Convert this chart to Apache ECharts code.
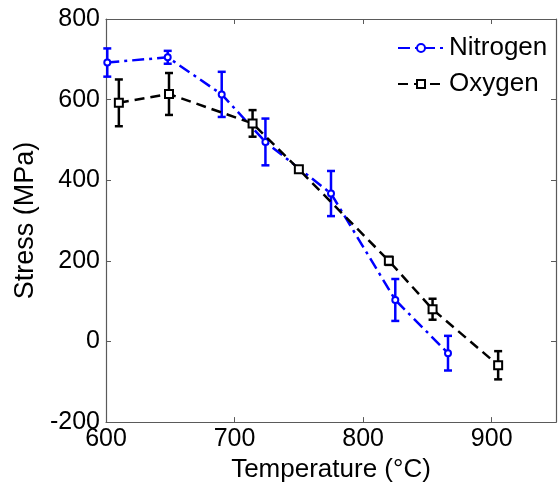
<!DOCTYPE html>
<html>
<head>
<meta charset="utf-8">
<script src="https://cdn.jsdelivr.net/npm/echarts@6/dist/echarts.min.js"></script>
<style>
html,body{margin:0;padding:0;background:#fff;}
#chart{width:559px;height:488px;}
</style>
</head>
<body>
<div id="chart"></div>
<script>
// Data
const nitrogenT = [601, 648, 690, 724, 775, 825, 866];
const nitrogenStress = [692, 705, 613, 495, 367, 103, -29];
const nitrogenErr = [35, 16, 56, 58, 56, 52, 43];

const oxygenT = [610, 649, 714, 750, 820, 854, 905];
const oxygenStress = [592, 614, 541, 427, 200, 80, -59];
const oxygenErr = [58, 52, 33, 6, 10, 26, 35];

const xTicks = [600, 700, 800, 900];
const yTicks = [-200, 0, 200, 400, 600, 800];

const FONT = 'Liberation Sans, Arial, sans-serif';
const AXIS_COLOR = '#5a5a5a';

function pts(xs, ys) { return xs.map((x, i) => [x, ys[i]]); }
function errs(xs, ys, es) { return xs.map((x, i) => [x, ys[i] - es[i], ys[i] + es[i]]); }

function errRender(color) {
  return function (params, api) {
    const x = api.value(0);
    const lo = api.coord([x, api.value(1)]);
    const hi = api.coord([x, api.value(2)]);
    const w = 4;
    const style = { stroke: color, lineWidth: 2.5, fill: null };
    return {
      type: 'group',
      children: [
        { type: 'line', shape: { x1: lo[0], y1: lo[1], x2: hi[0], y2: hi[1] }, style },
        { type: 'line', shape: { x1: lo[0] - w, y1: lo[1], x2: lo[0] + w, y2: lo[1] }, style },
        { type: 'line', shape: { x1: hi[0] - w, y1: hi[1], x2: hi[0] + w, y2: hi[1] }, style }
      ]
    };
  };
}

const chart = echarts.init(document.getElementById('chart'), null, { renderer: 'canvas' });

const axisCommon = {
  axisLine: { show: true, onZero: false, lineStyle: { color: AXIS_COLOR, width: 1.2 } },
  axisTick: { show: true, inside: true, length: 5, lineStyle: { color: AXIS_COLOR } },
  splitLine: { show: false }
};

chart.setOption({
  animation: false,
  backgroundColor: '#fff',
  textStyle: { fontFamily: FONT },
  grid: { left: 106, right: 1, top: 19, bottom: 62.5, containLabel: false },
  legend: {
    data: ['Nitrogen', 'Oxygen'],
    orient: 'vertical',
    left: 392,
    top: 30,
    itemWidth: 46,
    itemHeight: 10,
    itemGap: 10,
    textStyle: { fontSize: 26, color: '#000', fontFamily: FONT, lineHeight: 24 },
    selectedMode: false
  },
  xAxis: [
    Object.assign({}, axisCommon, {
      type: 'value', position: 'bottom', min: 600, max: 950, interval: 100,
      name: 'Temperature (°C)', nameLocation: 'middle', nameGap: 32,
      nameTextStyle: { fontSize: 26, color: '#000', fontFamily: FONT },
      axisLabel: {
        fontSize: 25, color: '#000', margin: 5, fontFamily: FONT,
        formatter: v => (xTicks.indexOf(v) >= 0 ? String(v) : '')
      }
    }),
    Object.assign({}, axisCommon, {
      type: 'value', position: 'top', min: 600, max: 950, interval: 100,
      axisLabel: { show: false }
    })
  ],
  yAxis: [
    Object.assign({}, axisCommon, {
      type: 'value', position: 'left', min: -200, max: 800, interval: 200,
      name: 'Stress (MPa)', nameLocation: 'middle', nameGap: 63,
      nameTextStyle: { fontSize: 27, color: '#000', fontFamily: FONT },
      axisLabel: {
        fontSize: 25, color: '#000', margin: 6, fontFamily: FONT,
        formatter: v => (yTicks.indexOf(v) >= 0 ? String(v) : '')
      }
    }),
    Object.assign({}, axisCommon, {
      type: 'value', position: 'right', min: -200, max: 800, interval: 200,
      axisLabel: { show: false }
    })
  ],
  series: [
    {
      name: 'Nitrogen', type: 'line', xAxisIndex: 0, yAxisIndex: 0,
      data: pts(nitrogenT, nitrogenStress),
      symbol: 'emptyCircle', symbolSize: 6,
      lineStyle: { color: '#0000ff', width: 2.5, type: [12, 5, 3, 5] },
      itemStyle: { color: '#0000ff', borderColor: '#0000ff', borderWidth: 2.5 },
      z: 2
    },
    {
      name: 'Nitrogen err', type: 'custom', xAxisIndex: 0, yAxisIndex: 0,
      data: errs(nitrogenT, nitrogenStress, nitrogenErr),
      renderItem: errRender('#0000ff'),
      encode: { x: 0, y: [1, 2] },
      z: 2
    },
    {
      name: 'Oxygen', type: 'line', xAxisIndex: 0, yAxisIndex: 0,
      data: pts(oxygenT, oxygenStress),
      symbol: 'emptyRect', symbolSize: 8,
      lineStyle: { color: '#000', width: 2.5, type: [10, 6] },
      itemStyle: { color: '#000', borderColor: '#000', borderWidth: 2 },
      z: 3
    },
    {
      name: 'Oxygen err', type: 'custom', xAxisIndex: 0, yAxisIndex: 0,
      data: errs(oxygenT, oxygenStress, oxygenErr),
      renderItem: errRender('#000'),
      encode: { x: 0, y: [1, 2] },
      z: 3
    }
  ]
});
</script>
</body>
</html>
